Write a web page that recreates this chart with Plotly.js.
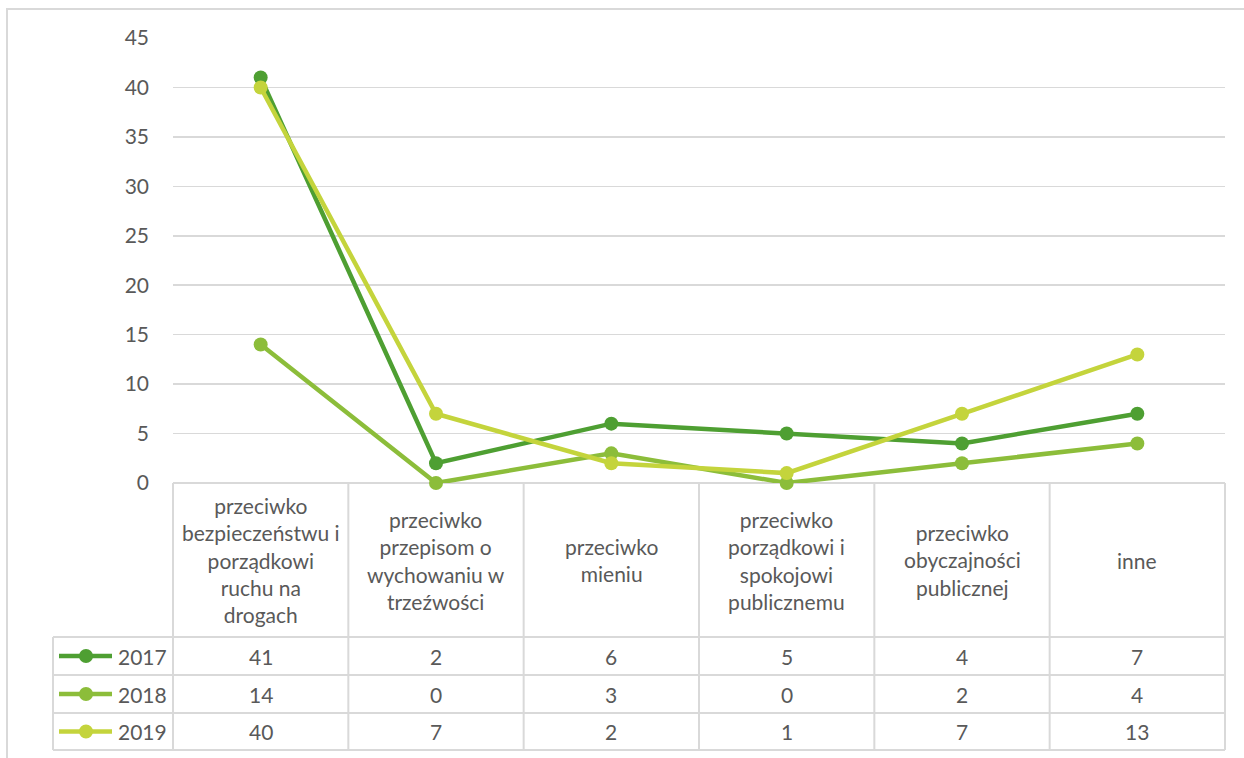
<!DOCTYPE html>
<html><head><meta charset="utf-8">
<script src="https://cdn.plot.ly/plotly-3.0.1.min.js"></script>
<style>html,body{margin:0;padding:0;background:#fff;}#chart{width:1244px;height:758px;}</style>
</head><body><div id="chart"></div>
<script>
const categories = [
  "przeciwko<br>bezpieczeństwu i<br>porządkowi<br>ruchu na<br>drogach",
  "przeciwko<br>przepisom o<br>wychowaniu w<br>trzeźwości",
  "przeciwko<br>mieniu",
  "przeciwko<br>porządkowi i<br>spokojowi<br>publicznemu",
  "przeciwko<br>obyczajności<br>publicznej",
  "inne"
];
const seriesNames = ["2017", "2018", "2019"];
const values2017 = [41, 2, 6, 5, 4, 7];
const values2018 = [14, 0, 3, 0, 2, 4];
const values2019 = [40, 7, 2, 1, 7, 13];
const yTicks = [0, 5, 10, 15, 20, 25, 30, 35, 40, 45];
const colors = ["#4E9F32", "#8CBD3A", "#C4D43C"];

const W = 1244, H = 758;
const px = x => x / W;
const py = y => 1 - y / H;
const plotL = 173, plotR = 1225, plotT = 38, plotB = 483;
const rowB = [637, 675, 713, 750];
const legL = 53;
const grid = "#D9D9D9";
const txt = "#595959";
const FONT = "Lato, 'Open Sans', sans-serif";

const allSeries = [values2017, values2018, values2019];
const idx = categories.map((c, i) => i);

const traces = allSeries.map((vals, s) => ({
  type: "scatter", mode: "lines+markers",
  x: idx, y: vals, name: seriesNames[s],
  line: {color: colors[s], width: 4.5},
  marker: {color: colors[s], size: 14},
  cliponaxis: false,
  showlegend: false, hoverinfo: "x+y"
}));

const shapes = [];
const annotations = [];
const L = (x0, y0, x1, y1, extra) => shapes.push(Object.assign({type: "line", xref: "paper", yref: "paper", x0: px(x0), y0: py(y0), x1: px(x1), y1: py(y1), line: {color: grid, width: 2}, layer: "below"}, extra || {}));

// outer chart border
shapes.push({type: "rect", xref: "paper", yref: "paper", x0: px(7), y0: py(1000), x1: px(1400), y1: py(9), line: {color: grid, width: 2}, layer: "below"});

// table horizontal lines
L(plotL, plotB, plotR, plotB);
rowB.forEach(y => L(legL, y, plotR, y));
// legend column left border
L(legL, rowB[0], legL, rowB[3]);
// column separators
const n = categories.length;
for (let i = 0; i <= n; i++) {
  const x = plotL + (plotR - plotL) * i / n;
  L(x, plotB, x, rowB[3]);
}

// category header labels
categories.forEach((c, i) => annotations.push({
  xref: "x", yref: "paper", x: i, y: py(560), text: c, showarrow: false,
  xanchor: "center", yanchor: "middle", align: "center",
  font: {family: FONT, size: 21, color: txt}
}));

// data rows
allSeries.forEach((vals, s) => {
  const yc = (rowB[s] + rowB[s + 1]) / 2;
  vals.forEach((v, i) => annotations.push({
    xref: "x", yref: "paper", x: i, y: py(yc), text: String(v), showarrow: false,
    xanchor: "center", yanchor: "middle",
    font: {family: FONT, size: 21, color: txt}
  }));
  // legend key
  L(59, yc, 112, yc, {line: {color: colors[s], width: 4.5}, layer: "above"});
  shapes.push({type: "circle", xref: "paper", yref: "paper", x0: px(79), x1: px(93), y0: py(yc - 7), y1: py(yc + 7), fillcolor: colors[s], line: {color: colors[s], width: 0}});
  annotations.push({
    xref: "paper", yref: "paper", x: px(116), y: py(yc), text: seriesNames[s], showarrow: false,
    xanchor: "left", yanchor: "middle",
    font: {family: FONT, size: 21, color: txt}
  });
});

const layout = {
  width: W, height: H,
  margin: {l: 0, r: 0, t: 0, b: 0},
  paper_bgcolor: "#fff", plot_bgcolor: "#fff",
  font: {family: FONT, size: 20, color: txt},
  xaxis: {
    domain: [px(plotL), px(plotR)], range: [-0.5, n - 0.5],
    showticklabels: false, showgrid: false, zeroline: false, showline: false, fixedrange: true
  },
  yaxis: {
    domain: [py(plotB), py(plotT)], range: [0, 45],
    tickvals: yTicks, ticktext: yTicks.map(String),
    showgrid: true, gridcolor: grid, gridwidth: 1.5,
    zeroline: true, zerolinecolor: grid, zerolinewidth: 2,
    showline: false, ticks: "", ticklabelstandoff: 23,
    tickfont: {family: FONT, size: 21, color: txt}, fixedrange: true
  },
  shapes: shapes,
  annotations: annotations,
  showlegend: false
};

Plotly.newPlot("chart", traces, layout, {displayModeBar: false, staticPlot: true});
</script>
</body></html>
